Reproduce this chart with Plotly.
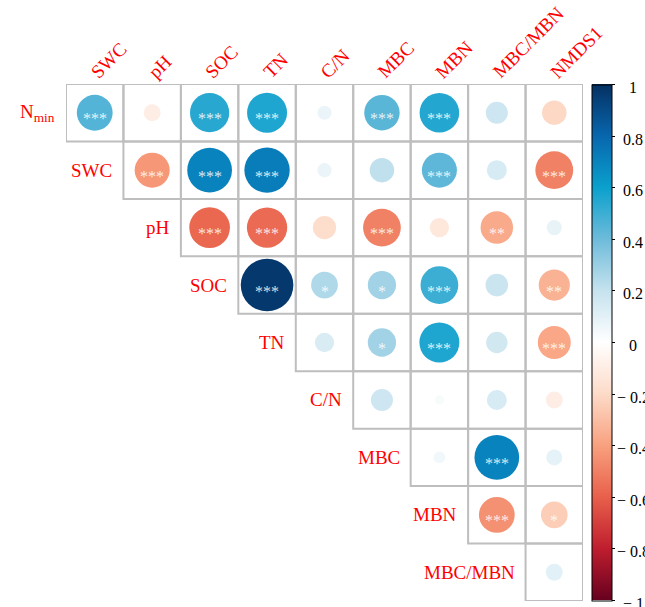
import numpy as np
import plotly.graph_objects as go

# Variables (rows of the upper triangle and columns)
row_labels = ["N<sub>min</sub>", "SWC", "pH", "SOC", "TN", "C/N", "MBC", "MBN", "MBC/MBN"]
col_labels = ["SWC", "pH", "SOC", "TN", "C/N", "MBC", "MBN", "MBC/MBN", "NMDS1"]

# Pearson r for each row, starting at the diagonal column
r_nmin   = [0.45, -0.10, 0.54, 0.56, 0.07, 0.44, 0.55, 0.17, -0.21]
r_swc    = [-0.43, 0.70, 0.72, 0.07, 0.21, 0.43, 0.14, -0.50]
r_ph     = [-0.58, -0.57, -0.19, -0.50, -0.13, -0.37, 0.08]
r_soc    = [0.97, 0.25, 0.28, 0.50, 0.18, -0.34]
r_tn     = [0.13, 0.28, 0.56, 0.16, -0.38]
r_cn     = [0.17, 0.03, 0.14, -0.10]
r_mbc    = [0.05, 0.70, 0.09]
r_mbn    = [-0.45, -0.25]
r_mbcmbn = [0.10]

# Significance marks, same layout as the r lists
sig_nmin   = ["***", "", "***", "***", "", "***", "***", "", ""]
sig_swc    = ["***", "***", "***", "", "", "***", "", "***"]
sig_ph     = ["***", "***", "", "***", "", "**", ""]
sig_soc    = ["***", "*", "*", "***", "", "**"]
sig_tn     = ["", "*", "***", "", "***"]
sig_cn     = ["", "", "", ""]
sig_mbc    = ["", "***", ""]
sig_mbn    = ["***", "*"]
sig_mbcmbn = [""]

r_rows = [r_nmin, r_swc, r_ph, r_soc, r_tn, r_cn, r_mbc, r_mbn, r_mbcmbn]
sig_rows = [sig_nmin, sig_swc, sig_ph, sig_soc, sig_tn, sig_cn, sig_mbc, sig_mbn, sig_mbcmbn]

cbar_ticks = [1, 0.8, 0.6, 0.4, 0.2, 0, -0.2, -0.4, -0.6, -0.8, -1]

colorscale = [
    [0.0, "#67001F"], [0.1, "#BF1E2E"], [0.2, "#E8604B"], [0.3, "#F8A17F"],
    [0.4, "#FDDBC9"], [0.5, "#FFFFFF"], [0.6, "#C5E2EE"], [0.7, "#6DBBDA"],
    [0.8, "#0AA0CD"], [0.9, "#0866AD"], [1.0, "#053061"],
]

W, H = 645, 607
ML, MR, MT, MB = 66, 62, 84, 6
plot_w = W - ML - MR
plot_h = H - MT - MB
n = len(col_labels)
cell_px = plot_w / n

xs, ys, vals, sizes = [], [], [], []
for i, rv in enumerate(r_rows):
    for k, v in enumerate(rv):
        xs.append(i + k + 1)
        ys.append(i + 1)
        vals.append(v)
        sizes.append(0.93 * cell_px * np.sqrt(abs(v)))

fig = go.Figure()

# cell borders
shapes = []
for i, rv in enumerate(r_rows):
    for k in range(len(rv)):
        col = i + k + 1
        shapes.append(dict(type="rect", xref="x", yref="y",
                           x0=col - 0.5, x1=col + 0.5, y0=i + 0.5, y1=i + 1.5,
                           line=dict(color="#BEBEBE", width=2), layer="below"))

fig.add_trace(go.Scatter(
    x=xs, y=ys, mode="markers",
    marker=dict(size=sizes, color=vals, colorscale=colorscale, cmin=-1, cmax=1,
                line=dict(width=0), opacity=1,
                showscale=True,
                colorbar=dict(
                    x=(592 - ML) / plot_w, xanchor="left", xpad=0,
                    y=0.5, yanchor="middle", ypad=0,
                    thickness=20, thicknessmode="pixels",
                    len=516, lenmode="pixels",
                    outlinecolor="black", outlinewidth=1,
                    tickvals=cbar_ticks, ticks="outside", ticklen=3,
                    tickcolor="black", showticklabels=False,
                )),
    hoverinfo="skip", showlegend=False,
))

annotations = []
serif = "Liberation Serif, Times New Roman, serif"
label_font = dict(family=serif, size=19, color="#FF0000")

# significance stars
for i, sv in enumerate(sig_rows):
    for k, s in enumerate(sv):
        if s:
            annotations.append(dict(x=i + k + 1, y=i + 1, xref="x", yref="y", text=s,
                                    showarrow=False, yshift=-6,
                                    font=dict(family=serif, size=16,
                                              color="rgba(255,255,255,0.85)")))

# row labels next to the diagonal
for i, lab in enumerate(row_labels):
    annotations.append(dict(x=i + 0.5, y=i + 1, xref="x", yref="y", text=lab,
                            showarrow=False, xanchor="right", xshift=-9,
                            font=label_font))

# rotated column labels along the top edge
for j, lab in enumerate(col_labels):
    annotations.append(dict(x=j + 1, y=0.5, xref="x", yref="y", text=lab,
                            showarrow=False, xanchor="left", yanchor="bottom",
                            textangle=-45, xshift=-11, yshift=-1,
                            font=label_font))

# colour bar labels
for t in cbar_ticks:
    txt = "0" if t == 0 else (f"{t:g}" if t > 0 else "\u2212 " + f"{abs(t):g}")
    annotations.append(dict(x=(633 - ML) / plot_w, y=0.5 + t * 258 / plot_h,
                            xref="paper", yref="paper", text=txt, showarrow=False,
                            xanchor="center", yanchor="middle", yshift=-3,
                            font=dict(family=serif, size=16, color="black")))

fig.update_layout(
    width=W, height=H,
    margin=dict(l=ML, r=MR, t=MT, b=MB),
    paper_bgcolor="white", plot_bgcolor="white",
    font=dict(family=serif),
    xaxis=dict(range=[0.5, n + 0.5], visible=False, fixedrange=True),
    yaxis=dict(range=[n + 0.5, 0.5], visible=False, fixedrange=True),
    shapes=shapes, annotations=annotations,
)

fig.write_html("out.html")
